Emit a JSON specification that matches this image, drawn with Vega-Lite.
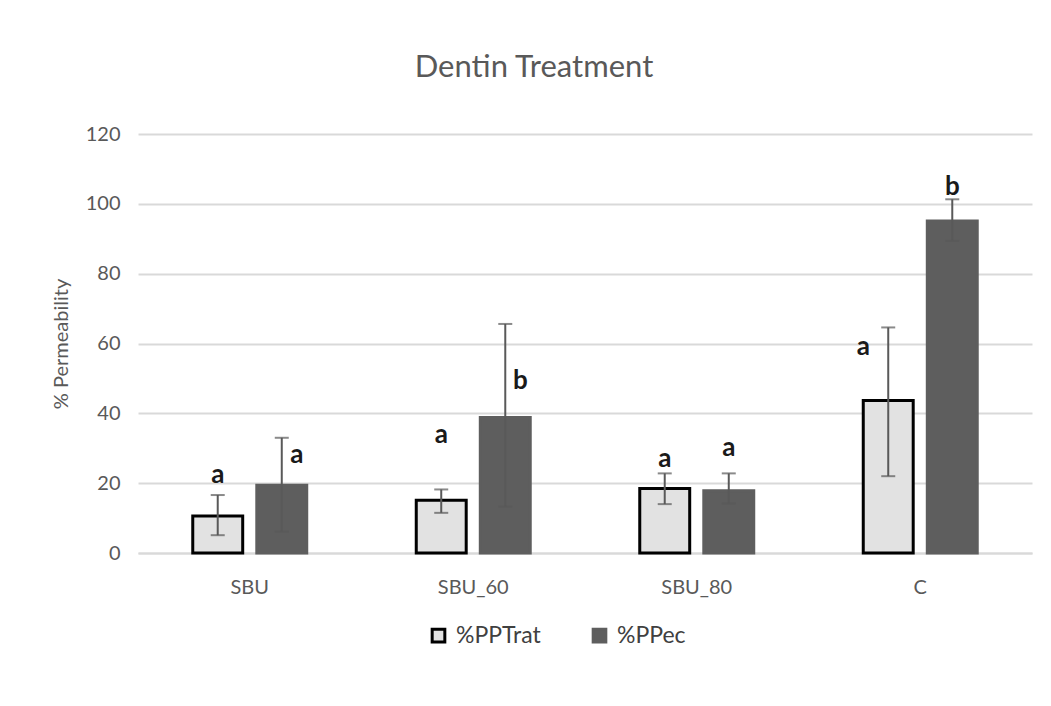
{
  "$schema": "https://vega.github.io/schema/vega-lite/v6.json",
  "autosize": {"type": "none"},
  "padding": {"left": 138, "top": 134, "right": 19, "bottom": 153},
  "width": 894,
  "height": 419,
  "background": "white",
  "title": {"text": "Dentin Treatment", "fontSize": 31, "font": "Lato", "fontWeight": "normal", "color": "#595959", "offset": 40, "dx": -51, "anchor": "middle"},
  "data": {"values": [
    {"group": "SBU", "series": "%PPTrat", "value": 10.6, "lo": 5.1, "hi": 16.6, "letter": "a", "letter_y": 22.3, "side": "center"},
    {"group": "SBU", "series": "%PPec", "value": 19.4, "lo": 6.1, "hi": 33.0, "letter": "a", "letter_y": 28, "side": "right"},
    {"group": "SBU_60", "series": "%PPTrat", "value": 15.1, "lo": 11.5, "hi": 18.2, "letter": "a", "letter_y": 33.7, "side": "center"},
    {"group": "SBU_60", "series": "%PPec", "value": 38.8, "lo": 13.3, "hi": 65.6, "letter": "b", "letter_y": 49.4, "side": "right"},
    {"group": "SBU_80", "series": "%PPTrat", "value": 18.5, "lo": 14.0, "hi": 22.8, "letter": "a", "letter_y": 27, "side": "center"},
    {"group": "SBU_80", "series": "%PPec", "value": 17.8, "lo": 14.2, "hi": 22.8, "letter": "a", "letter_y": 30, "side": "center"},
    {"group": "C", "series": "%PPTrat", "value": 43.7, "lo": 22.0, "hi": 64.6, "letter": "a", "letter_y": 59, "side": "left"},
    {"group": "C", "series": "%PPec", "value": 95.1, "lo": 89.4, "hi": 101.3, "letter": "b", "letter_y": 104.7, "side": "center"}
  ]},
  "encoding": {
    "x": {"field": "group", "type": "nominal", "sort": ["SBU", "SBU_60", "SBU_80", "C"],
      "scale": {"paddingInner": 0.49, "paddingOuter": 0.245},
      "axis": {"title": null, "labelAngle": 0, "labelFontSize": 20, "labelColor": "#595959", "labelFont": "Lato", "ticks": false, "domainColor": "#d9d9d9", "domainWidth": 2, "labelPadding": 24}},
    "xOffset": {"field": "series", "type": "nominal", "sort": ["%PPTrat", "%PPec"], "scale": {"paddingInner": 0.22, "paddingOuter": 0}}
  },
  "layer": [
    {
      "mark": {"type": "bar", "strokeWidth": 3},
      "encoding": {
        "y": {"field": "value", "type": "quantitative", "scale": {"domain": [0, 120]},
          "axis": {"title": "% Permeability", "titleFontSize": 20, "titleFont": "Lato", "titleFontWeight": "normal", "titleColor": "#595959", "titlePadding": 14,
            "values": [0, 20, 40, 60, 80, 100, 120], "labelFontSize": 20, "labelFont": "Lato", "labelColor": "#595959", "labelPadding": 18,
            "ticks": false, "domain": false, "gridColor": "#d9d9d9", "gridWidth": 2}},
        "fill": {"field": "series", "type": "nominal", "sort": ["%PPTrat", "%PPec"],
          "scale": {"range": ["#e2e2e2", "#5e5e5e"]},
          "legend": {"title": null, "orient": "none", "legendX": 289, "legendY": 490, "direction": "horizontal",
            "symbolType": "square", "symbolSize": 160, "symbolStrokeWidth": 3, "labelFontSize": 23, "labelFont": "Lato", "labelColor": "#404040", "columnPadding": 46, "labelOffset": 6,
            "encode": {"symbols": {"update": {
              "stroke": {"signal": "datum.value === '%PPTrat' ? '#000000' : '#5e5e5e'"},
              "fill": {"signal": "datum.value === '%PPTrat' ? '#f4f4f4' : '#5e5e5e'"}}}}}},
        "stroke": {"field": "series", "type": "nominal", "sort": ["%PPTrat", "%PPec"],
          "scale": {"range": ["#000000", "#5e5e5e"]}, "legend": null}
      }
    },
    {
      "mark": {"type": "rule", "color": "#595959", "strokeWidth": 2},
      "encoding": {"y": {"field": "lo", "type": "quantitative"}, "y2": {"field": "hi"}}
    },
    {
      "mark": {"type": "tick", "color": "#595959", "thickness": 2, "size": 14},
      "encoding": {"y": {"field": "lo", "type": "quantitative"}}
    },
    {
      "mark": {"type": "tick", "color": "#595959", "thickness": 2, "size": 14},
      "encoding": {"y": {"field": "hi", "type": "quantitative"}}
    },
    {
      "transform": [{"filter": "datum.side === 'center'"}],
      "mark": {"type": "text", "fontSize": 26, "font": "Lato", "fontWeight": "bold", "color": "#1a1a1a", "baseline": "middle"},
      "encoding": {"y": {"field": "letter_y", "type": "quantitative"}, "text": {"field": "letter"}}
    },
    {
      "transform": [{"filter": "datum.side === 'right'"}],
      "mark": {"type": "text", "fontSize": 26, "font": "Lato", "fontWeight": "bold", "color": "#1a1a1a", "baseline": "middle", "dx": 15},
      "encoding": {"y": {"field": "letter_y", "type": "quantitative"}, "text": {"field": "letter"}}
    },
    {
      "transform": [{"filter": "datum.side === 'left'"}],
      "mark": {"type": "text", "fontSize": 26, "font": "Lato", "fontWeight": "bold", "color": "#1a1a1a", "baseline": "middle", "dx": -25},
      "encoding": {"y": {"field": "letter_y", "type": "quantitative"}, "text": {"field": "letter"}}
    }
  ],
  "config": {"view": {"stroke": null}}
}
